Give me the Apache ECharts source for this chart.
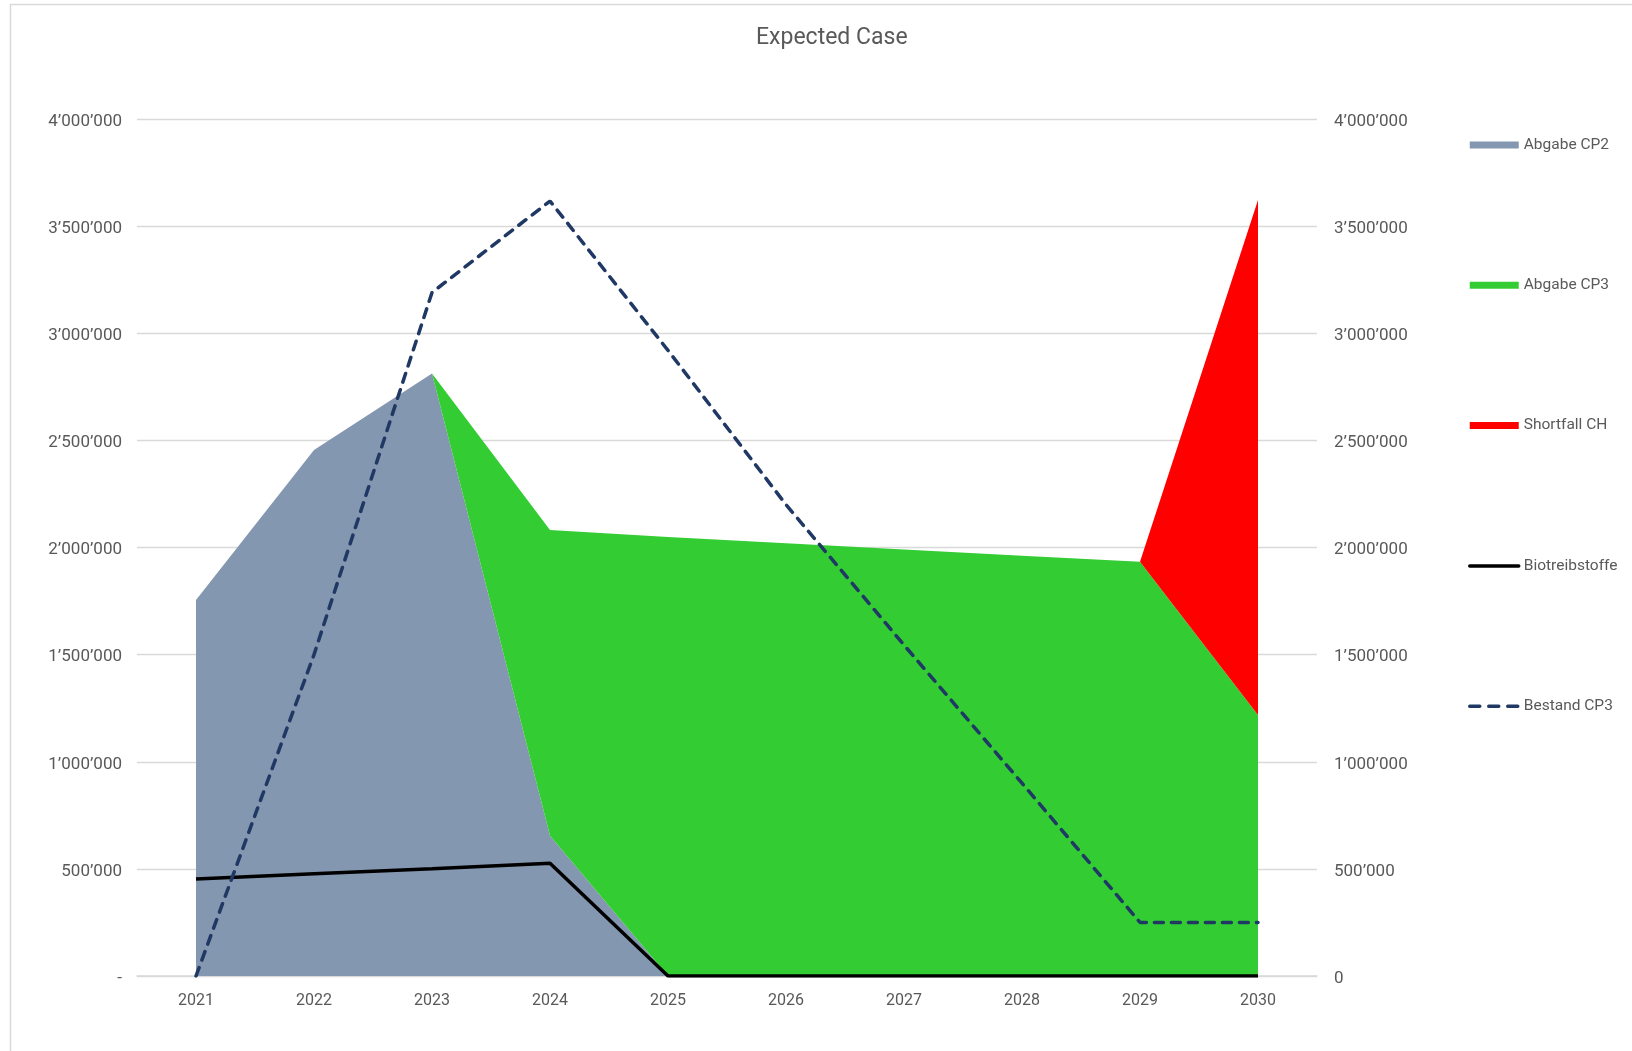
<!DOCTYPE html>
<html>
<head>
<meta charset="utf-8">
<script src="https://cdn.jsdelivr.net/npm/echarts@6/dist/echarts.min.js"></script>
<style>
html,body{margin:0;padding:0;background:#fff;}
#chart{width:1632px;height:1051px;}
</style>
</head>
<body>
<div id="chart"></div>
<script>
const years = ['2021','2022','2023','2024','2025','2026','2027','2028','2029','2030'];
const abgabeCP2 = [1755000, 2455000, 2812000, 655000, 0, 0, 0, 0, 0, 0];
const abgabeCP3 = [0, 0, 0, 1427000, 2049000, 2020000, 1991000, 1962000, 1933000, 1218000];
const shortfallCH = [0, 0, 0, 0, 0, 0, 0, 0, 0, 2404000];
const biotreibstoffe = [453000, 477000, 501000, 526000, 0, 0, 0, 0, 0, 0];
const bestandCP3 = [0, 1500000, 3190000, 3617000, 2920000, 2200000, 1545000, 900000, 250000, 250000];
const axisMin = 0, axisMax = 4000000, axisStep = 500000;

function fmt(v){
  return String(Math.round(v)).replace(/\B(?=(\d{3})+(?!\d))/g, '\u2019');
}
const FONT = 'Roboto, "Liberation Sans", sans-serif';
const GREY = '#595959';
const richLbl = {a: {fontFamily: FONT, fontSize: 17, color: GREY, padding: [5, 0, 0, 0]}};

const chart = echarts.init(document.getElementById('chart'));
chart.setOption({
  animation: false,
  backgroundColor: '#ffffff',
  graphic: [{
    type: 'rect', silent: true, z: -10,
    shape: {x: 10.5, y: 4.5, width: 1700, height: 1100},
    style: {fill: 'none', stroke: '#d9d9d9', lineWidth: 1.5}
  }],
  title: {
    text: 'Expected Case',
    left: 751, top: 22,
    textStyle: {fontFamily: FONT, fontSize: 23, fontWeight: 'normal', color: GREY}
  },
  legend: {
    orient: 'vertical',
    left: 1468, top: 137,
    itemWidth: 49, itemHeight: 7, itemGap: 124.3,
    padding: 0,
    textStyle: {fontFamily: FONT, fontSize: 15.5, color: GREY, padding: [0,0,0,0]},
    data: [
      {name: 'Abgabe CP2', icon: 'rect'},
      {name: 'Abgabe CP3', icon: 'rect'},
      {name: 'Shortfall CH', icon: 'rect'},
      {name: 'Biotreibstoffe', itemStyle: {opacity: 0},
       lineStyle: {width: 3.5, color: '#000000', cap: 'round'}},
      {name: 'Bestand CP3', itemStyle: {opacity: 0},
       lineStyle: {width: 3.5, color: '#203864', type: [10, 9], cap: 'round'}}
    ]
  },
  grid: {left: 137, right: 315, top: 119, bottom: 75, containLabel: false},
  xAxis: {
    type: 'category',
    data: years,
    boundaryGap: true,
    axisLine: {show: true, lineStyle: {color: '#d9d9d9', width: 1.5}},
    axisTick: {show: false},
    axisLabel: {fontFamily: FONT, fontSize: 16, color: GREY, margin: 17}
  },
  yAxis: [{
    type: 'value', min: axisMin, max: axisMax, interval: axisStep,
    axisLine: {show: false}, axisTick: {show: false},
    splitLine: {lineStyle: {color: '#d9d9d9', width: 1.3}},
    axisLabel: {margin: 15, rich: richLbl,
      formatter: v => '{a|' + (v === 0 ? '-' : fmt(v)) + '}'}
  }, {
    type: 'value', min: axisMin, max: axisMax, interval: axisStep,
    axisLine: {show: false}, axisTick: {show: false},
    splitLine: {show: false},
    axisLabel: {margin: 17, rich: richLbl,
      formatter: v => '{a|' + (v === 0 ? '0' : fmt(v)) + '}'}
  }],
  series: [
    {name: 'Abgabe CP2', type: 'line', stack: 'total', data: abgabeCP2,
     symbol: 'none', lineStyle: {width: 0}, itemStyle: {color: '#8497B0'},
     areaStyle: {color: '#8497B0', opacity: 1}, z: 1},
    {name: 'Abgabe CP3', type: 'line', stack: 'total', data: abgabeCP3,
     symbol: 'none', lineStyle: {width: 0}, itemStyle: {color: '#33CC33'},
     areaStyle: {color: '#33CC33', opacity: 1}, z: 1},
    {name: 'Shortfall CH', type: 'line', stack: 'total', data: shortfallCH,
     symbol: 'none', lineStyle: {width: 0}, itemStyle: {color: '#FF0000'},
     areaStyle: {color: '#FF0000', opacity: 1}, z: 1},
    {name: 'Biotreibstoffe', type: 'line', yAxisIndex: 1, data: biotreibstoffe,
     symbol: 'none', itemStyle: {color: '#000000'},
     lineStyle: {color: '#000000', width: 3.5}, z: 3},
    {name: 'Bestand CP3', type: 'line', yAxisIndex: 1, data: bestandCP3,
     symbol: 'none', itemStyle: {color: '#203864'},
     lineStyle: {color: '#203864', width: 3.5, type: [9, 8], cap: 'round'}, z: 4}
  ]
});
</script>
</body>
</html>
